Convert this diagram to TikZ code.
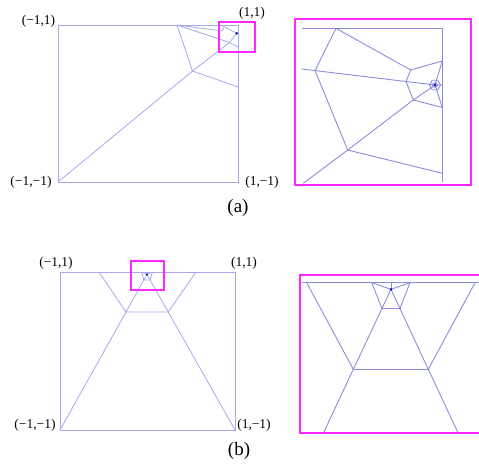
\documentclass[tikz,border=0pt]{standalone}
\usepackage{fontspec}
\setmainfont{Liberation Serif}
\usetikzlibrary{calc,shapes.geometric}

\definecolor{cellline}{RGB}{168,168,236}
\definecolor{zoomline}{RGB}{140,140,220}
\definecolor{boxpink}{RGB}{255,40,255}

\begin{document}
\begin{tikzpicture}[x=1pt,y=-1pt,
  cell/.style={draw=cellline,line width=0.8pt},
  cellz/.style={draw=zoomline,line width=0.9pt},
  zbox/.style={draw=boxpink,line width=1.8pt},
  lbl/.style={font=\fontsize{13.5}{15}\selectfont,inner sep=0pt},
  captionlbl/.style={font=\fontsize{19}{21}\selectfont,inner sep=0pt}]

\useasboundingbox (0,0) rectangle (479,467);

% ---- (a) left square
\coordinate (atl) at (58, 25);
\coordinate (atr) at (238, 25);
\coordinate (abr) at (238, 182);
\coordinate (abl) at (58, 182);

\coordinate (atop) at (177, 25);
\coordinate (amid) at (192.5, 71);
\coordinate (aright) at (238, 87);
\coordinate (aq1) at (222.5, 31);
\coordinate (aq2) at (224, 26.5);
\coordinate (adot) at (236.7, 33.3);
\coordinate (aq3) at (229.5, 42.5);
\coordinate (aright2) at (238, 47);

\draw [cell] (atl) -- (atr) -- (abr) -- (abl) -- cycle;
\draw [cell] (atop) -- (amid) -- (abl);
\draw [cell] (amid) -- (aright);
\draw [cell] (amid) -- (aq3) -- (aright2);
\draw [cell] (atop) -- (aq1) -- (aq2) -- (adot) -- (aq3) -- cycle;
\filldraw [blue!70!black] (adot) circle [radius=1pt];

\draw [zbox] (218.7, 21.7) rectangle (254.7, 51.7);

\node[lbl] (atllbl) at ($(atl) + (-19.5,-3.5)$) {(−1,1)};
\node[lbl] (atrlbl) at ($(atr) + (14,-11.5)$) {(1,1)};
\node[lbl] (abllbl) at ($(abl) + (-27,0)$) {(−1,−1)};
\node[lbl] (abrlbl) at ($(abr) + (24,0)$) {(1,−1)};
\node[captionlbl] (acap) at (238, 208) {(a)};

% ---- (a) zoomed view
\coordinate (etl) at (301.7, 28.3);
\coordinate (etr) at (442.3, 28.3);
\coordinate (ebr) at (442.3, 181.7);
\coordinate (ep1) at (336, 28.3);
\coordinate (ep2) at (315, 70.6);
\coordinate (eleft) at (301.7, 69);
\coordinate (ep3) at (347.7, 150);
\coordinate (ebl) at (303.3, 183.3);
\coordinate (er3) at (442.3, 173.3);
\coordinate (ep4) at (413.3, 100);
\coordinate (ep5) at (410.7, 70);
\coordinate (ep6) at (406, 81.5);
\coordinate (edot) at (435, 85);
\coordinate (er1) at (442.3, 61);
\coordinate (er2) at (442.3, 107.5);
\coordinate (er0) at (442.3, 85);

\draw [cellz] (etl) -- (etr) -- (ebr);
\draw [cellz] (ep1) -- (ep2) -- (ep3) -- (ebl);
\draw [cellz] (ep3) -- (er3);
\draw [cellz] (ep3) -- (ep4) -- (edot);
\draw [cellz] (ep1) -- (ep5) -- (er1) -- (edot);
\draw [cellz] (eleft) -- (ep2) -- (ep6) -- (edot) -- (er0);
\draw [cellz] (ep5) -- (ep6) -- (ep4) -- (er2) -- (edot);
\node[cellz, regular polygon, regular polygon sides=6, minimum size=11pt,
  inner sep=0pt] (ehex) at (edot) {};
\node[cellz, regular polygon, regular polygon sides=6, minimum size=5pt,
  inner sep=0pt] (ehexin) at (edot) {};
\filldraw [blue!70!black] (edot) circle [radius=1.2pt];

\draw [zbox] (295, 19) rectangle (471, 185);

% ---- (b) left square
\coordinate (btl) at (60, 272);
\coordinate (btr) at (235, 272);
\coordinate (bbr) at (235, 430);
\coordinate (bbl) at (60, 430);

\coordinate (bt1) at (99, 272);
\coordinate (bt2) at (196, 272);
\coordinate (bapex) at (147, 274.5);
\coordinate (bpeak) at (147, 272);
\coordinate (bs1) at (141.5, 272);
\coordinate (bs2) at (152.5, 272);
\coordinate (bmidl) at ($(bbl)!0.759!(bapex)$);
\coordinate (bmidr) at ($(bbr)!0.759!(bapex)$);
\coordinate (bupl) at ($(bbl)!0.965!(bapex)$);
\coordinate (bupr) at ($(bbr)!0.965!(bapex)$);

\draw [cell] (btl) -- (btr) -- (bbr) -- (bbl) -- cycle;
\draw [cell] (bt1) -- (bmidl) -- (bmidr) -- (bt2);
\draw [cell] (bbl) -- (bmidl) -- (bupl) -- (bapex);
\draw [cell] (bbr) -- (bmidr) -- (bupr) -- (bapex);
\draw [cell] (bs1) -- (bupl) -- (bupr) -- (bs2);
\draw [cell] (bs1) -- (bapex) -- (bs2);
\draw [cell] (bapex) -- (bpeak);
\filldraw [blue!70!black] (bapex) circle [radius=0.8pt];

\draw [zbox] (131, 261) rectangle (164, 290);

\node[lbl] (btllbl) at ($(btl) + (-4,-8.7)$) {(−1,1)};
\node[lbl] (btrlbl) at ($(btr) + (9,-8.7)$) {(1,1)};
\node[lbl] (bbllbl) at ($(bbl) + (-25,-4.3)$) {(−1,−1)};
\node[lbl] (bbrlbl) at ($(bbr) + (19,-4.3)$) {(1,−1)};
\node[captionlbl] (bcap) at (239, 451) {(b)};

% ---- (b) zoomed view
\coordinate (ftl) at (301.7, 282.7);
\coordinate (ftr) at (485, 282.7);
\coordinate (fl1) at (306.7, 282.7);
\coordinate (fr1) at (475, 282.7);
\coordinate (fa) at (353.3, 369.3);
\coordinate (fb) at (428.3, 369.3);
\coordinate (fbl) at (323.3, 433.3);
\coordinate (fbr) at (458.3, 433.3);
\coordinate (fapex) at (391, 289.3);
\coordinate (fpeak) at (391, 282.7);
\coordinate (fs1) at (371.7, 282.7);
\coordinate (fs2) at (410, 282.7);
\coordinate (fc) at ($(fa)!0.76!(fapex)$);
\coordinate (fd) at ($(fb)!0.76!(fapex)$);

\draw [cellz] (ftl) -- (ftr);
\draw [cellz] (fl1) -- (fa) -- (fbl);
\draw [cellz] (fr1) -- (fb) -- (fbr);
\draw [cellz] (fa) -- (fb);
\draw [cellz] (fa) -- (fc) -- (fapex);
\draw [cellz] (fb) -- (fd) -- (fapex);
\draw [cellz] (fs1) -- (fc) -- (fd) -- (fs2);
\draw [cellz] (fs1) -- (fapex) -- (fs2);
\draw [cellz] (fapex) -- (fpeak);
\filldraw [blue!70!black] (fapex) circle [radius=1pt];

\draw [zbox] (300, 275) rectangle (490, 433.3);

\end{tikzpicture}
\end{document}
